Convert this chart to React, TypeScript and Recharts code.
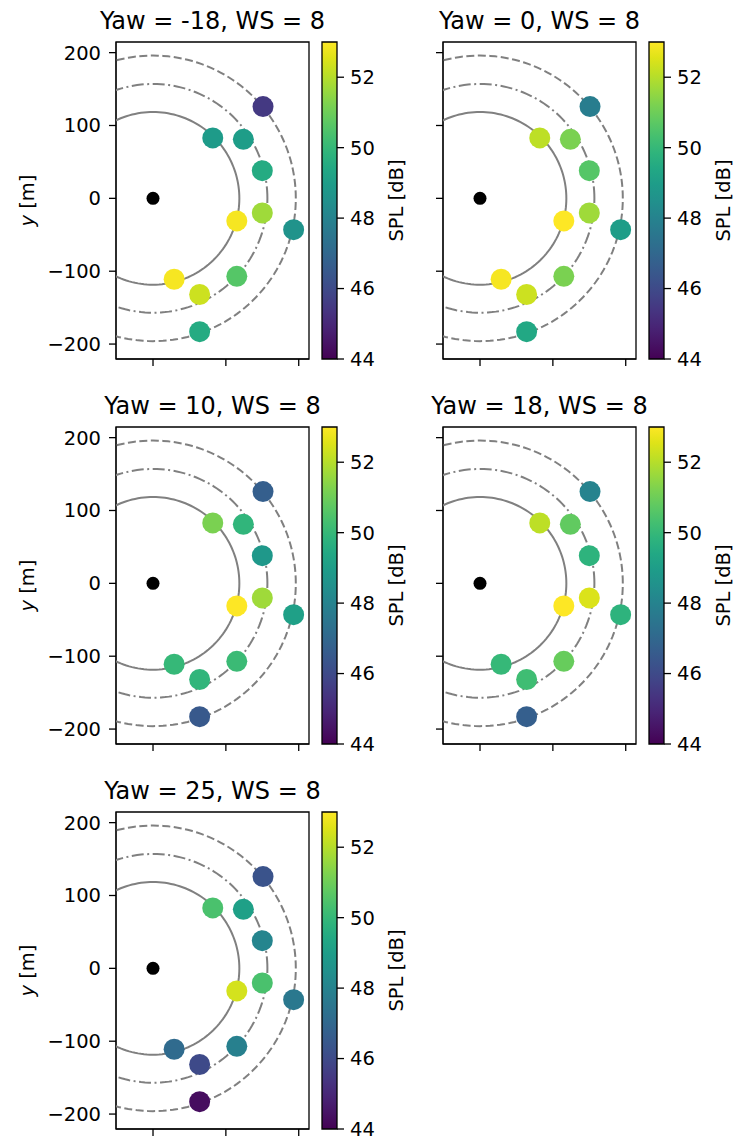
// Receiver SPL maps for several yaw angles (WS = 8)
import React from "react";
import { ScatterChart, Scatter, XAxis, YAxis, ReferenceArea, BarChart, Bar } from "recharts";

// receiver positions [m]
const RX_X = [151, 82, 124, 150, 150, 115, 193, 115, 29, 64, 64];
const RX_Y = [126, 83, 81, 38, -20, -31, -43, -107, -111, -132, -183];

// reference rings around the turbine [m]
const RING_RADII = [118.5, 157, 196];
const RING_DASH = ["", "12 3.5 2 3.5", "8 3.5"];

const WS = 8;
const YAWS = [-18, 0, 10, 18, 25];

// SPL [dB] at each receiver, one list per yaw
const SPL_YAW_M18 = [45.5, 48.9, 49.0, 49.5, 51.7, 52.9, 48.6, 50.6, 52.9, 52.3, 49.5];
const SPL_YAW_0 = [47.8, 52.1, 51.2, 50.6, 51.7, 53.0, 49.0, 51.2, 52.9, 52.3, 49.4];
const SPL_YAW_10 = [46.7, 51.2, 49.9, 48.8, 51.7, 53.0, 49.1, 50.1, 50.0, 49.9, 46.5];
const SPL_YAW_18 = [48.0, 52.1, 50.8, 49.8, 52.5, 53.0, 49.8, 50.9, 50.0, 50.2, 46.7];
const SPL_YAW_25 = [46.3, 50.4, 49.1, 48.1, 50.4, 52.4, 47.6, 47.9, 47.1, 46.0, 44.3];
const SPL_BY_YAW = [SPL_YAW_M18, SPL_YAW_0, SPL_YAW_10, SPL_YAW_18, SPL_YAW_25];

const X_DOMAIN = [-50.8, 214.1];
const Y_DOMAIN = [-220.5, 214.6];
const X_TICKS = [0, 100, 200];
const Y_TICKS = [-200, -100, 0, 100, 200];
const SPL_MIN = 44;
const SPL_MAX = 53;
const CB_TICKS = [44, 46, 48, 50, 52];

const VIRIDIS = [
  "#440154", "#471365", "#482475", "#463480", "#414487", "#3b528b", "#355f8d",
  "#2f6c8e", "#2a788e", "#25848e", "#21918c", "#1e9c89", "#22a884", "#2fb47c",
  "#44bf70", "#5ec962", "#7ad151", "#9bd93c", "#bddf26", "#dfe318", "#fde725",
];

const FONT = "'DejaVu Sans', sans-serif";
const PLOT_W = 193;
const PLOT_H = 317;
const COL_LEFT = [116, 443];
const ROW_TOP = [42, 427, 812];

function hexToRgb(h: string) {
  return [1, 3, 5].map((i) => parseInt(h.slice(i, i + 2), 16));
}

function viridis(v: number) {
  const t = Math.min(1, Math.max(0, (v - SPL_MIN) / (SPL_MAX - SPL_MIN)));
  const pos = t * (VIRIDIS.length - 1);
  const i = Math.min(VIRIDIS.length - 2, Math.floor(pos));
  const f = pos - i;
  const a = hexToRgb(VIRIDIS[i]);
  const b = hexToRgb(VIRIDIS[i + 1]);
  const c = a.map((x, k) => Math.round(x + (b[k] - x) * f));
  return `rgb(${c[0]},${c[1]},${c[2]})`;
}

function ringPoints(r: number) {
  const pts = [];
  for (let deg = 0; deg <= 360; deg += 2) {
    const a = (deg * Math.PI) / 180;
    pts.push({ x: r * Math.cos(a), y: r * Math.sin(a) });
  }
  return pts;
}

const minus = (v: number) => String(v).replace("-", "\u2212");
const tickStyle = { fontSize: 19.5, fill: "#000", fontFamily: FONT };
// tick marks only, no label
const noLabel = () => <g />;

function YTitle({ viewBox }: any) {
  const cx = viewBox.x + 27;
  const cy = viewBox.y + viewBox.height / 2;
  return (
    <text x={cx} y={cy} transform={`rotate(-90, ${cx}, ${cy})`} textAnchor="middle"
      dominantBaseline="central" fontSize={19.5} fontFamily={FONT} fill="#000">
      <tspan fontStyle="italic">y</tspan> [m]
    </text>
  );
}

function CbTitle({ viewBox }: any) {
  const cx = viewBox.x + 59;
  const cy = viewBox.y + viewBox.height / 2;
  return (
    <text x={cx} y={cy} transform={`rotate(-90, ${cx}, ${cy})`} textAnchor="middle"
      dominantBaseline="central" fontSize={19.5} fontFamily={FONT} fill="#000">
      SPL [dB]
    </text>
  );
}

function Panel({ idx }: { idx: number }) {
  const plotLeft = COL_LEFT[idx % 2];
  const plotTop = ROW_TOP[Math.floor(idx / 2)];
  const leftCol = idx % 2 === 0;
  const spl = SPL_BY_YAW[idx];
  const receivers = RX_X.map((x, i) => ({ x, y: RX_Y[i], spl: spl[i] }));
  const cbLeft = plotLeft + PLOT_W + 13;
  const gradId = `viridis-${idx}`;

  return (
    <>
      <div
        style={{
          position: "absolute", left: plotLeft - 80, width: PLOT_W + 160, top: plotTop - 33,
          textAlign: "center", fontSize: 24, lineHeight: "24px", fontFamily: FONT,
          whiteSpace: "nowrap", color: "#000",
        }}
      >
        Yaw = {YAWS[idx]}, WS = {WS}
      </div>

      <div style={{ position: "absolute", left: plotLeft - 116, top: plotTop - 2 }}>
        <ScatterChart width={116 + PLOT_W + 2} height={2 + PLOT_H + 20}
          margin={{ top: 2, right: 2, bottom: 0, left: 0 }}>
          <XAxis type="number" dataKey="x" domain={X_DOMAIN} ticks={X_TICKS} allowDataOverflow
            interval={0} tick={noLabel} tickSize={7} height={20} stroke="#000"
            tickLine={{ stroke: "#000", strokeWidth: 1.3 }} />
          <YAxis type="number" dataKey="y" domain={Y_DOMAIN} ticks={Y_TICKS} allowDataOverflow
            interval={0} width={116} tickSize={7} tickMargin={8} stroke="#000"
            tickLine={{ stroke: "#000", strokeWidth: 1.3 }}
            tick={leftCol ? tickStyle : noLabel} tickFormatter={minus}
            label={leftCol ? { content: <YTitle /> } : undefined} />
          {RING_RADII.map((r, i) => (
            <Scatter key={`ring-${i}`} data={ringPoints(r)} isAnimationActive={false}
              line={{ stroke: "#808080", strokeWidth: 2, strokeDasharray: RING_DASH[i] || undefined }}
              shape={() => <g />} />
          ))}
          <Scatter data={receivers} isAnimationActive={false}
            shape={(p: any) => <circle cx={p.cx} cy={p.cy} r={10.5} fill={viridis(p.payload.spl)} />} />
          <Scatter data={[{ x: 0, y: 0 }]} isAnimationActive={false}
            shape={(p: any) => <circle cx={p.cx} cy={p.cy} r={6.5} fill="#000" />} />
          <ReferenceArea x1={X_DOMAIN[0]} x2={X_DOMAIN[1]} y1={Y_DOMAIN[0]} y2={Y_DOMAIN[1]}
            ifOverflow="visible" fill="none" stroke="#000" strokeWidth={1.3} />
        </ScatterChart>
      </div>

      <div style={{ position: "absolute", left: cbLeft - 2, top: plotTop - 2 }}>
        <BarChart width={2 + 15 + 72} height={PLOT_H + 18} data={[{ name: "SPL", hi: SPL_MAX }]}
          margin={{ top: 2, right: 0, bottom: 16, left: 2 }} barCategoryGap={0}>
          <defs>
            <linearGradient id={gradId} x1="0" y1="1" x2="0" y2="0">
              {VIRIDIS.map((c, i) => (
                <stop key={i} offset={`${(i / (VIRIDIS.length - 1)) * 100}%`} stopColor={c} />
              ))}
            </linearGradient>
          </defs>
          <XAxis dataKey="name" hide />
          <YAxis orientation="right" type="number" domain={[SPL_MIN, SPL_MAX]} ticks={CB_TICKS}
            interval={0} width={72} tickSize={7} tickMargin={6} axisLine={false}
            tickLine={{ stroke: "#000", strokeWidth: 1.3 }} tick={tickStyle}
            label={{ content: <CbTitle /> }} />
          <Bar dataKey="hi" fill={`url(#${gradId})`} stroke="#000" strokeWidth={1.3}
            isAnimationActive={false} />
        </BarChart>
      </div>
    </>
  );
}

export default function App() {
  return (
    <div style={{ position: "absolute", left: 0, top: 0, width: 733, height: 1139,
      background: "#fff", overflow: "hidden" }}>
      {YAWS.map((_, i) => (
        <Panel key={i} idx={i} />
      ))}
    </div>
  );
}
